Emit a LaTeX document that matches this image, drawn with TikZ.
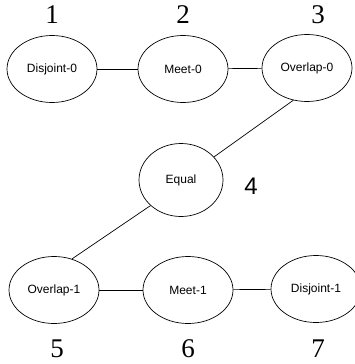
\documentclass[tikz,border=0pt]{standalone}
\usepackage{fontspec}
\setmainfont{Liberation Serif}
\setsansfont{Liberation Sans}
\usetikzlibrary{shapes.geometric}
\tikzset{
  state/.style={ellipse, draw, line width=0.7pt, minimum width=90pt, minimum height=67pt, inner sep=0pt, font=\sffamily\fontsize{12}{14}\selectfont},
  num/.style={font=\rmfamily\fontsize{27}{30}\selectfont, inner sep=0pt},
  snum/.style={font=\sffamily\fontsize{24}{28}\selectfont, inner sep=0pt},
  link/.style={line width=0.7pt}
}
\begin{document}
\begin{tikzpicture}[x=1pt,y=-1pt]
\useasboundingbox (0,0) rectangle (355,364);
\node[state] (d0) at (52,69) {Disjoint-0};
\node[state] (m0) at (183,69) {Meet-0};
\node[state] (o0) at (307,68) {Overlap-0};
\node[state, minimum width=84pt, minimum height=73pt] (eq) at (181,180) {Equal};
\node[state] (o1) at (54,290) {Overlap-1};
\node[state] (m1) at (188,290) {Meet-1};
\node[state] (d1) at (316,289) {Disjoint-1};
\node[num] (n1) at (52,15) {1};
\node[num] (n2) at (183,15) {2};
\node[num] (n3) at (318,15) {3};
\node[snum] (n4) at (251,186) {4};
\node[num] (n5) at (57,349) {5};
\node[num] (n6) at (188,349) {6};
\node[num] (n7) at (318,349) {7};
\draw[link] (d0) -- (m0);
\draw[link] (m0) -- (o0);
\draw[link] (o0.-113) -- (eq.35);
\draw[link] (eq.-140) -- (o1.60);
\draw[link] (o1) -- (m1);
\draw[link] (m1) -- (d1);
\end{tikzpicture}
\end{document}
